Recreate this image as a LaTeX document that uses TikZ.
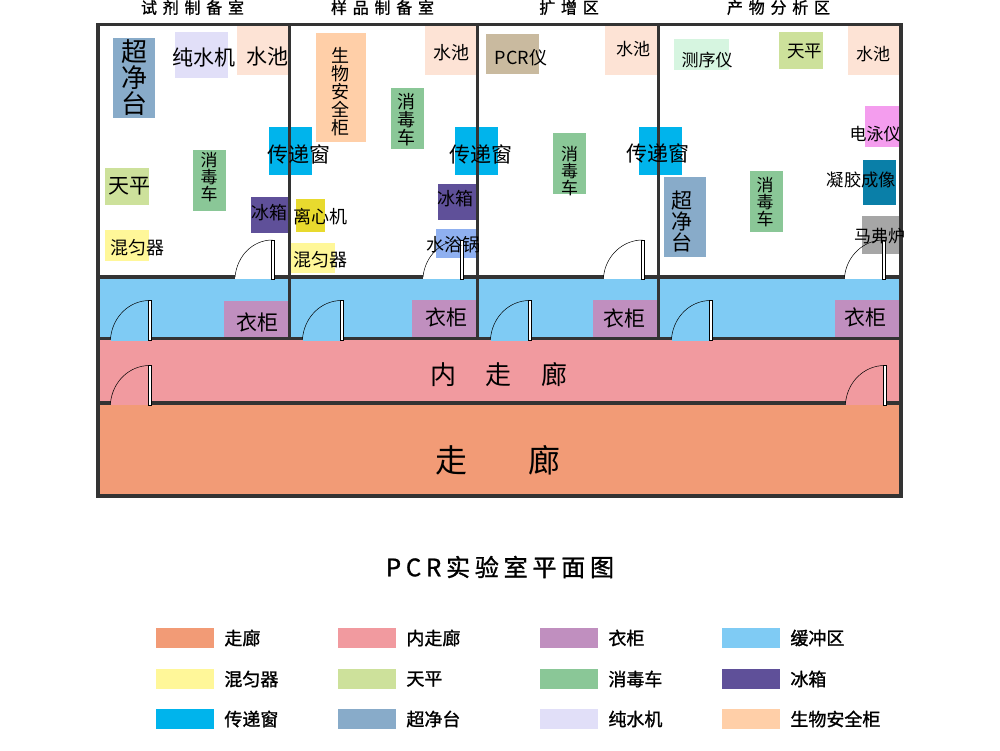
\documentclass[tikz,border=0pt]{standalone}
\usepackage{fontspec}
\usepackage{xcolor}
\usepackage{tikz}
\usetikzlibrary{positioning}
\setmainfont{Noto Sans CJK SC}
\newfontfamily\cjkheavy[FakeBold=1.2]{Noto Sans CJK SC}
\definecolor{hallc}{HTML}{F29B76}
\definecolor{innerc}{HTML}{F19A9F}
\definecolor{robec}{HTML}{C08FBF}
\definecolor{bufferc}{HTML}{7FCBF4}
\definecolor{mixc}{HTML}{FFF799}
\definecolor{balancec}{HTML}{CDE19B}
\definecolor{cartc}{HTML}{8AC797}
\definecolor{fridgec}{HTML}{5F5099}
\definecolor{passc}{HTML}{00B4EC}
\definecolor{cleanc}{HTML}{88ABC9}
\definecolor{purec}{HTML}{E1DFF8}
\definecolor{safetyc}{HTML}{FFCFA8}
\definecolor{sinkc}{HTML}{FDE3D5}
\definecolor{spinc}{HTML}{E8DA2E}
\definecolor{bathc}{HTML}{8FB0F0}
\definecolor{pcrc}{HTML}{C9BA9F}
\definecolor{seqc}{HTML}{D6F5E0}
\definecolor{gelc}{HTML}{F49DEE}
\definecolor{imagec}{HTML}{0A7FA8}
\definecolor{mufflec}{HTML}{A6A6A6}
\definecolor{wallc}{HTML}{333333}
\begin{document}
\begin{tikzpicture}[x=1pt, y=-1pt,
        wall/.style={draw=wallc, line width=3.8pt},
        box/.style={inner sep=0pt, outer sep=0pt},
        txt/.style={inner sep=0pt, align=center},
        swatch/.style={inner sep=0pt, minimum width=58pt, minimum height=20pt}]
    \useasboundingbox (0,0) rectangle (1000,750);
    \fill[hallc] (98,403) rectangle (901,496);
    \fill[innerc] (98,338.5) rectangle (901,403);
    \fill[bufferc] (98,277) rectangle (901,338.5);
    \foreach \n/\c/\cx/\cy/\w/\h in {clean1/cleanc/134/78/42/80, pure/purec/201.5/55/53/46,
            sink1/sinkc/262.5/50.5/51/49, pass1/passc/290.5/151/43/48,
            cart1/cartc/209.5/180.5/33/61, bal1/balancec/127/186.5/44/37,
            fridge1/fridgec/269.5/215/37/36, mix1/mixc/127/245.5/44/31,
            safety/safetyc/341/87.5/50/109, sink2/sinkc/450.5/50.5/51/49,
            cart2/cartc/407.5/118.5/33/61, pass2/passc/476.5/151/43/48,
            fridge2/fridgec/457/202/38/36, spin/spinc/310.5/215.5/29/33,
            mix2/mixc/313/258/44/30, bath/bathc/457.5/243.5/43/29,
            pcr/pcrc/512.5/54/53/40, sink3/sinkc/631/50.5/52/49,
            cart3/cartc/569.5/163.5/33/61, pass3/passc/660.5/151/43/48,
            seq/seqc/701.5/54.5/55/31, bal2/balancec/801/50.5/44/37,
            sink4/sinkc/873.5/50.5/51/49, gel/gelc/882/126.5/34/41,
            image/imagec/879.5/182.5/33/45, muffle/mufflec/880.5/235/37/38,
            clean2/cleanc/685/217/42/80, cart4/cartc/766.5/201.5/33/61,
            robe1/robec/256/319/64/36, robe2/robec/444/318.5/64/37,
            robe3/robec/625/318.5/64/37, robe4/robec/867/318.5/64/37}
        \node[box, fill=\c, minimum width=\w pt, minimum height=\h pt] (\n) at (\cx,\cy) {};
    \draw[wall] (98,24.5) rectangle (901,496);
    \draw[wall] (289.5,24.5) -- (289.5,338.5);
    \draw[wall] (477.5,24.5) -- (477.5,338.5);
    \draw[wall] (658.5,24.5) -- (658.5,338.5);
    \draw[wall] (98,277) -- (901,277);
    \draw[wall] (98,338.5) -- (901,338.5);
    \draw[wall] (98,403) -- (901,403);
    \foreach \dl/\dr/\wy/\ty/\dc in {235/272.5/277/240/white, 423/461.5/277/240/white,
            603.5/642.5/277/240/white, 844.5/883.5/277/240/white,
            110.5/149.5/338.5/300.5/bufferc, 302.5/341.5/338.5/300.5/bufferc,
            490.5/529.5/338.5/300.5/bufferc, 671.5/710.5/338.5/300.5/bufferc,
            110.5/149.5/403/365.5/innerc, 845.5/884.5/403/365.5/innerc} {
        \fill[\dc] (\dl,\wy-2) rectangle (\dr,\wy+2);
        \draw[line width=0.5pt] (\dl,\wy) .. controls (\dl+2,\ty+16) and (\dr-20,\ty) .. (\dr,\ty);
        \draw[line width=0.5pt, fill=white] (\dr-1.5,\ty) rectangle (\dr+1.5,\wy+2);
    }
    \foreach \n/\fs/\cx/\cy/\t in {clean1/26/134/78/{超\\净\\台}, pure/21/204/58/纯水机,
            sink1/21/267/57/水池, pass1/21/299/154/传递窗,
            cart1/17/209/177/{消\\毒\\车}, bal1/21/129.5/186/天平,
            fridge1/18/269/213/冰箱, mix1/18/137/248/混匀器,
            safety/18/340/92/{生\\物\\安\\全\\柜}, sink2/18/451/53/水池,
            cart2/18/406/120/{消\\毒\\车}, pass2/21/480.5/154/传递窗,
            fridge2/18/455/199/冰箱, spin/18/320.5/217/离心机,
            mix2/18/320.5/260/混匀器, bath/18/453/245/水浴锅,
            pcr/18/521/58/PCR仪, sink3/17/633/49/水池,
            cart3/17/569.5/171/{消\\毒\\车}, pass3/21/658/153/传递窗,
            seq/17/707/60/测序仪, bal2/17.5/804.5/51/天平,
            sink4/17/873/54/水池, gel/17/875/134.5/电泳仪,
            image/17.3/861.5/180/凝胶成像, muffle/17/879.5/236/马弗炉,
            clean2/21/681.5/222/{超\\净\\台}, cart4/17/765/202/{消\\毒\\车},
            robe1/21/257/322/衣柜, robe2/21/446/317/衣柜,
            robe3/21/624/318/衣柜, robe4/21/865/317/衣柜}
        \node[txt, font=\fontsize{\fs}{\fs}\selectfont] (\n text) at (\cx,\cy) {\t};
    \node[txt, font=\fontsize{26}{26}\selectfont] (innerhall) at (499,375) {内\hspace{30pt}走\hspace{30pt}廊};
    \node[txt, font=\fontsize{32}{32}\selectfont] (hall) at (498,460) {走\hspace{62pt}廊};
    \foreach \n/\cx/\t in {reagent/192.5/试剂制备室, sample/382.5/样品制备室,
            amplify/569/扩增区, analysis/778.5/产物分析区}
        \node[txt, font=\cjkheavy\fontsize{16}{16}\selectfont\addfontfeature{LetterSpace=36}] (\n) at (\cx,7.5) {\t};
    \node[txt, font=\cjkheavy\fontsize{24}{24}\selectfont\addfontfeature{LetterSpace=20}] (title) at (500,567) {PCR实验室平面图};
    \foreach \n/\c/\cx/\cy/\t in {lhall/hallc/185/638/走廊, linner/innerc/367/638/内走廊,
            lrobe/robec/569/638/衣柜, lbuffer/bufferc/751/638/缓冲区,
            lmix/mixc/185/679/混匀器, lbal/balancec/367/679/天平,
            lcart/cartc/569/679/消毒车, lfridge/fridgec/751/679/冰箱,
            lpass/passc/185/719/传递窗, lclean/cleanc/367/719/超净台,
            lpure/purec/569/719/纯水机, lsafety/safetyc/751/719/生物安全柜} {
        \node[swatch, fill=\c] (\n) at (\cx,\cy) {};
        \node[txt, right=10pt of \n, font=\cjkheavy\fontsize{18}{18}\selectfont] (\n text) {\t};
    }
\end{tikzpicture}
\end{document}
